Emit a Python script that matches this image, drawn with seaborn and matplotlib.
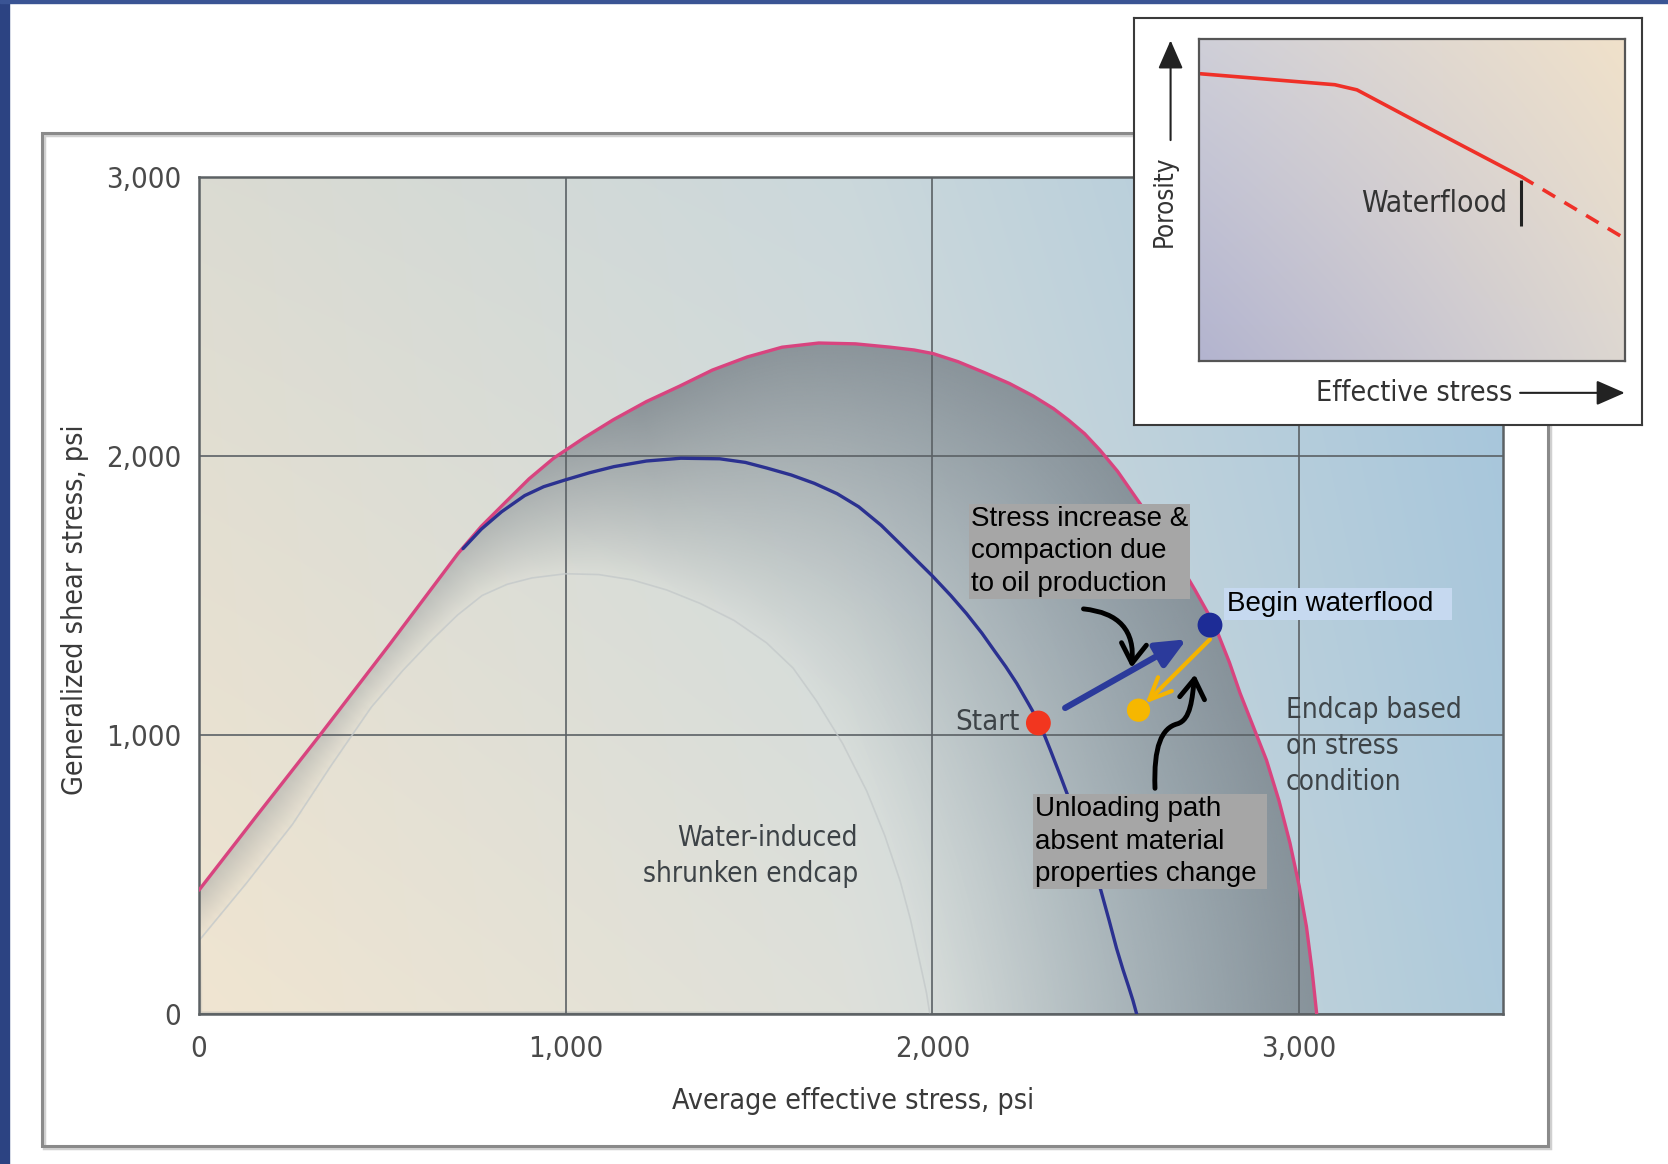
import numpy as np
import matplotlib
matplotlib.use("Agg")
import matplotlib.pyplot as plt
import seaborn as sns
from matplotlib import font_manager
from matplotlib.path import Path
from matplotlib.patches import Polygon, FancyArrowPatch, Rectangle

# ---- data (psi) ----
# endcap based on stress condition (pink)
outer_x = [0, 160, 330, 520, 706, 770, 840, 900, 967, 1050, 1130, 1220, 1310, 1400, 1495,
           1590, 1690, 1790, 1885, 1950, 2002, 2070, 2140, 2210, 2275, 2330, 2370, 2415,
           2457, 2505, 2550, 2595, 2639, 2680, 2716, 2750, 2775, 2810, 2839, 2875, 2911,
           2945, 2975, 3000, 3020, 3035, 3048]
outer_y = [444, 715, 1000, 1325, 1650, 1748, 1840, 1918, 1992, 2065, 2130, 2195, 2250, 2308, 2355,
           2390, 2405, 2402, 2390, 2380, 2367, 2338, 2300, 2260, 2215, 2170, 2130, 2080,
           2021, 1945, 1860, 1775, 1684, 1600, 1520, 1440, 1376, 1260, 1150, 1030, 910,
           765, 613, 460, 313, 160, 0]
# current endcap (blue)
cap_x = [720, 770, 825, 888, 940, 998, 1065, 1132, 1220, 1314, 1420, 1490, 1548, 1615, 1678,
         1740, 1799, 1860, 1912, 1960, 2000, 2050, 2093, 2135, 2170, 2200, 2230, 2262, 2293,
         2322, 2350, 2380, 2411, 2437, 2460, 2482, 2502, 2520, 2535, 2547, 2557]
cap_y = [1668, 1738, 1800, 1858, 1890, 1914, 1940, 1962, 1982, 1992, 1990, 1977, 1957, 1932, 1902,
         1865, 1818, 1752, 1685, 1622, 1570, 1500, 1435, 1365, 1300, 1245, 1185, 1112, 1040,
         945, 850, 745, 638, 540, 440, 335, 236, 158, 98, 48, 0]
# water-induced shrunken endcap (faint)
shrunk_x = [0, 130, 255, 360, 470, 555, 636, 705, 772, 840, 908, 1000, 1090, 1181, 1275, 1366,
            1460, 1548, 1620, 1684, 1755, 1821, 1870, 1912, 1940, 1960, 1975, 1984, 1993]
shrunk_y = [263, 470, 680, 890, 1100, 1230, 1342, 1430, 1500, 1540, 1563, 1578, 1575, 1556, 1520, 1472,
            1410, 1330, 1240, 1122, 970, 799, 640, 477, 340, 220, 130, 75, 0]

start_pt = (2289, 1043)
flood_pt = (2757, 1394)
unload_pt = (2562, 1089)
load_from = (2362, 1097)
load_to = (2693, 1343)
unload_from = (2757, 1343)
unload_to = (2581, 1113)

x_ticks = [0, 1000, 2000, 3000]
y_ticks = [0, 1000, 2000, 3000]
x_max = 3556
y_max = 3000

# inset: porosity vs effective stress (relative units)
por_x = [0.005, 0.32, 0.372, 0.534, 0.757]
por_y = [0.892, 0.858, 0.842, 0.728, 0.573]
por_dash_x = [0.757, 1.0]
por_dash_y = [0.573, 0.381]

PINK = "#d8447f"
BLUE = "#2b3190"
GREY_TXT = "#3d4347"

sns.set_theme(style="white")
plt.rcParams["font.family"] = ["Liberation Sans", "DejaVu Sans"]

_fl = font_manager.fontManager.ttflist
if any(f.name == "Liberation Sans Narrow" for f in _fl):
    NARROW = dict(family="Liberation Sans Narrow")
elif any(f.name == "DejaVu Sans" and f.stretch == "condensed" for f in _fl):
    NARROW = dict(family="DejaVu Sans", stretch="condensed")
else:
    NARROW = dict(family="Liberation Sans")

W, H = 1668, 1164
fig = plt.figure(figsize=(W / 100, H / 100), dpi=100)
fig.patch.set_facecolor("white")


def fx(px):
    return px / W


def fy(py):
    return 1 - py / H


# page decoration: blue slide edge and frame
fig.add_artist(Rectangle((0, 0), 9 / W, 1, transform=fig.transFigure, color="#2c4382", zorder=-2))
fig.add_artist(Rectangle((0, 1 - 3 / H), 1, 3 / H, transform=fig.transFigure, color="#3a5494", zorder=-2))
fig.add_artist(Rectangle((fx(44), fy(1148)), 1506 / W, 1013 / H, transform=fig.transFigure,
                         fill=False, ec="#d0d0d0", lw=2.5, zorder=-1))
fig.add_artist(Rectangle((fx(42), fy(1146)), 1506 / W, 1013 / H, transform=fig.transFigure,
                         fill=False, ec="#8a8a8a", lw=2.2, zorder=-1))

ax = fig.add_axes([fx(199), fy(1014), 1304 / W, 837 / H])

# background gradient
u = np.linspace(0, 1, 320)
v = np.linspace(0, 1, 220)
U, V = np.meshgrid(u, v)
stops = [0, 0.5, 1]
bot = np.array([matplotlib.colors.to_rgb(c) for c in ["#f0e5d1", "#dee0da", "#aecadb"]])
top = np.array([matplotlib.colors.to_rgb(c) for c in ["#dbdbd2", "#cbd8dc", "#a5c5dc"]])
bg = np.zeros(U.shape + (3,))
for k in range(3):
    b = np.interp(U, stops, bot[:, k])
    t = np.interp(U, stops, top[:, k])
    bg[..., k] = b + (t - b) * V
ax.imshow(bg, origin="lower", extent=[0, x_max, 0, y_max], aspect="auto",
          interpolation="bilinear", zorder=0.1)

# grey shading between shrunken endcap and outer endcap
sx, sy = 1304 / x_max, 837 / y_max


def dense(xs, ys, n=8):
    px, py = [], []
    for i in range(len(xs) - 1):
        f = np.linspace(0, 1, n, endpoint=False)
        px.append(xs[i] + (xs[i + 1] - xs[i]) * f)
        py.append(ys[i] + (ys[i + 1] - ys[i]) * f)
    px.append([xs[-1]])
    py.append([ys[-1]])
    return np.concatenate(px) * sx, np.concatenate(py) * sy


gx = np.linspace(0, x_max, 520)
gy = np.linspace(0, y_max, 360)
GX, GY = np.meshgrid(gx, gy)
ox, oy = dense(outer_x, outer_y)
hx, hy = dense(shrunk_x, shrunk_y)
dp = np.zeros(GX.shape)
ds = np.zeros(GX.shape)
for j in range(GX.shape[0]):
    rx, ry = GX[j] * sx, GY[j] * sy
    dp[j] = np.sqrt((rx[:, None] - ox[None]) ** 2 + (ry[:, None] - oy[None]) ** 2).min(1)
    ds[j] = np.sqrt((rx[:, None] - hx[None]) ** 2 + (ry[:, None] - hy[None]) ** 2).min(1)
tt = ds / (ds + dp + 1e-9)
wf = np.clip(0.3 + (ds + dp) / 250.0, 0, 1)
alpha = 0.8 * tt * wf
shr_path = Path(np.column_stack([shrunk_x + [0], shrunk_y + [0]]))
inside_s = shr_path.contains_points(np.column_stack([GX.ravel(), GY.ravel()])).reshape(GX.shape)
alpha[inside_s] = 0
shade = np.zeros(GX.shape + (4,))
shade[..., :3] = matplotlib.colors.to_rgb("#7a838a")
shade[..., 3] = alpha
im = ax.imshow(shade, origin="lower", extent=[0, x_max, 0, y_max], aspect="auto",
               interpolation="bilinear", zorder=0.2)
clip = Polygon(np.column_stack([outer_x + [0], outer_y + [0]]), closed=True, transform=ax.transData)
im.set_clip_path(clip)

# curves
sns.lineplot(x=shrunk_x, y=shrunk_y, sort=False, estimator=None, color="#c4c9ca", lw=1.2,
             alpha=0.8, ax=ax, zorder=2)
sns.lineplot(x=outer_x, y=outer_y, sort=False, estimator=None, color=PINK, lw=2.4, ax=ax, zorder=3)
sns.lineplot(x=cap_x, y=cap_y, sort=False, estimator=None, color=BLUE, lw=2.4, ax=ax, zorder=3)

# stress paths
ax.annotate("", xy=load_to, xytext=load_from, zorder=4,
            arrowprops=dict(arrowstyle="-|>,head_length=0.9,head_width=0.4", color="#2b3a9b",
                            lw=4.5, mutation_scale=20, shrinkA=0, shrinkB=0))
ax.annotate("", xy=unload_to, xytext=unload_from, zorder=4,
            arrowprops=dict(arrowstyle="->,head_length=0.8,head_width=0.35", color="#f5b400",
                            lw=3, mutation_scale=20, shrinkA=0, shrinkB=0))
sns.scatterplot(x=[start_pt[0]], y=[start_pt[1]], s=320, color="#f2361f", edgecolor="none", ax=ax, zorder=5)
sns.scatterplot(x=[flood_pt[0]], y=[flood_pt[1]], s=320, color="#1d2c96", edgecolor="none", ax=ax, zorder=5)
sns.scatterplot(x=[unload_pt[0]], y=[unload_pt[1]], s=280, color="#f6b700", edgecolor="none", ax=ax, zorder=5)

# black pointer arrows
ax.annotate("", xy=(2543, 1241), xytext=(2412, 1452), zorder=4,
            arrowprops=dict(arrowstyle="->,head_length=0.7,head_width=0.45", color="black", lw=3.5,
                            mutation_scale=20, shrinkA=0, shrinkB=0, connectionstyle="arc3,rad=-0.5"))
s_path = Path([(2607, 809), (2603, 960), (2625, 1025), (2668, 1040),
               (2705, 1055), (2708, 1130), (2716, 1217)],
              [Path.MOVETO, Path.CURVE4, Path.CURVE4, Path.CURVE4, Path.CURVE4, Path.CURVE4, Path.CURVE4])
ax.add_patch(FancyArrowPatch(path=s_path, arrowstyle="->,head_length=0.7,head_width=0.45",
                             color="black", lw=3.5, mutation_scale=20, zorder=4))

# annotations
box_font = dict(family="Liberation Sans", fontsize=20, color="black", linespacing=1.32, zorder=6)
ax.text(2105, 1821, "Stress increase &\ncompaction due\nto oil production", ha="left", va="top",
        bbox=dict(boxstyle="square,pad=0.08", fc="#a6a6a6", ec="none"), **box_font)
ax.text(2803, 1470, "Begin waterflood  ", ha="left", va="center",
        bbox=dict(boxstyle="square,pad=0.12", fc="#c6d9f0", ec="none"), **box_font)
ax.text(2280, 781, "Unloading path\nabsent material\nproperties change ", ha="left", va="top",
        bbox=dict(boxstyle="square,pad=0.08", fc="#a6a6a6", ec="none"), **box_font)

ax.text(2239, 1047, "Start", ha="right", va="center", fontsize=21, color=GREY_TXT, zorder=6, **NARROW)
ax.text(1797, 566, "Water-induced\nshrunken endcap", ha="right", va="center", ma="right",
        fontsize=20, color=GREY_TXT, linespacing=1.38, zorder=6, **NARROW)
ax.text(2964, 1140, "Endcap based\non stress\ncondition", ha="left", va="top",
        fontsize=20, color=GREY_TXT, linespacing=1.36, zorder=6, **NARROW)

# axes styling
ax.set_xlim(0, x_max)
ax.set_ylim(0, y_max)
ax.set_xticks(x_ticks)
ax.set_yticks(y_ticks)
ax.set_xticklabels([f"{t:,}" for t in x_ticks], fontsize=21, color="#4a4a4a", **NARROW)
ax.set_yticklabels([f"{t:,}" for t in y_ticks], fontsize=21, color="#4a4a4a", **NARROW)
ax.tick_params(axis="x", length=0, pad=15)
ax.tick_params(axis="y", length=0, pad=13)
ax.set_axisbelow(True)
ax.grid(True, color="#5b6165", lw=1.2)
for sp in ax.spines.values():
    sp.set_color("#5c6164")
    sp.set_linewidth(1.8)
ax.set_xlabel("Average effective stress, psi", fontsize=20.5, color="#3a3a3a", **NARROW)
ax.set_ylabel("Generalized shear stress, psi", fontsize=20.5, color="#3a3a3a", **NARROW)
ax.xaxis.set_label_coords(0.5015, -0.087)
ax.yaxis.set_label_coords(-0.084, 0.483)

# ---- inset ----
box_ax = fig.add_axes([fx(1134), fy(425), 508 / W, 407 / H], zorder=5)
box_ax.set_facecolor("white")
box_ax.set_xticks([])
box_ax.set_yticks([])
box_ax.set_xlim(0, 1)
box_ax.set_ylim(0, 1)
for sp in box_ax.spines.values():
    sp.set_color("#3a3a3a")
    sp.set_linewidth(1.5)
box_ax.text(0.061, 0.55, "Porosity", rotation=90, ha="center", va="center",
            fontsize=18.5, color="#333333", **NARROW)
box_ax.annotate("", xy=(0.072, 0.945), xytext=(0.072, 0.70),
                arrowprops=dict(arrowstyle="-|>,head_length=0.8,head_width=0.35", color="#222222",
                                lw=1.5, mutation_scale=22, shrinkA=0, shrinkB=0))
box_ax.text(0.551, 0.079, "Effective stress", ha="center", va="center",
            fontsize=20.5, color="#333333", **NARROW)
box_ax.annotate("", xy=(0.966, 0.079), xytext=(0.760, 0.079),
                arrowprops=dict(arrowstyle="-|>,head_length=0.8,head_width=0.35", color="#222222",
                                lw=1.5, mutation_scale=22, shrinkA=0, shrinkB=0))

in_ax = fig.add_axes([fx(1198.5), fy(361), 426 / W, 322 / H], zorder=6)
iu, iv = np.meshgrid(np.linspace(0, 1, 120), np.linspace(0, 1, 90))
c_bl = np.array(matplotlib.colors.to_rgb("#b3b4cf"))
c_tl = np.array(matplotlib.colors.to_rgb("#cfcfd8"))
c_br = np.array(matplotlib.colors.to_rgb("#ddd7d1"))
c_tr = np.array(matplotlib.colors.to_rgb("#f0e1ca"))
ibg = ((1 - iu) * (1 - iv))[..., None] * c_bl + ((1 - iu) * iv)[..., None] * c_tl \
    + (iu * (1 - iv))[..., None] * c_br + (iu * iv)[..., None] * c_tr
in_ax.imshow(ibg, origin="lower", extent=[0, 1, 0, 1], aspect="auto", interpolation="bilinear")
sns.lineplot(x=por_x, y=por_y, color="#ef3028", lw=2.6, ax=in_ax)
sns.lineplot(x=por_dash_x, y=por_dash_y, color="#ef3028", lw=2.6, ax=in_ax, linestyle=(0, (4, 3)))
in_ax.vlines(por_dash_x[0], por_dash_y[0] - 0.155, por_dash_y[0] - 0.01, color="#222222", lw=2.2)
in_ax.text(0.725, 0.49, "Waterflood", ha="right", va="center", fontsize=21.5, color="#333333", **NARROW)
in_ax.set_xlim(0, 1)
in_ax.set_ylim(0, 1)
in_ax.set_xticks([])
in_ax.set_yticks([])
in_ax.set_xlabel("")
in_ax.set_ylabel("")
for sp in in_ax.spines.values():
    sp.set_color("#555555")
    sp.set_linewidth(1.6)

fig.savefig("out.png", dpi=100)
